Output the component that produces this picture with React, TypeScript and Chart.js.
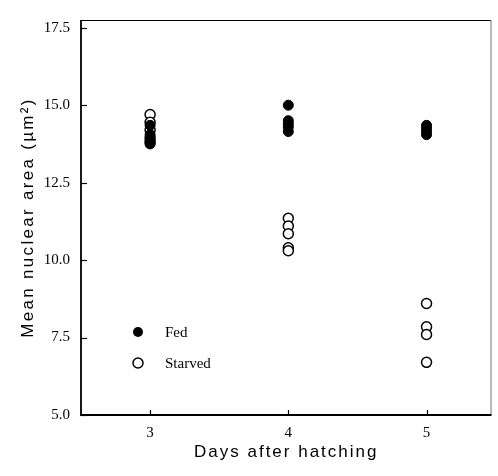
import React, { useEffect, useRef } from 'react';
import { Chart, registerables } from 'chart.js';

Chart.register(...registerables);

const days = [3, 4, 5];
const xTickValues = [3, 4, 5];
const yTickValues = [5, 7.5, 10, 12.5, 15, 17.5];

// Mean nuclear area (µm²) per day
const fedDay3 = [14.35, 14.05, 13.85, 13.75];
const fedDay4 = [15.0, 14.5, 14.4, 14.3, 14.15];
const fedDay5 = [14.35, 14.25, 14.15, 14.05];

const starvedDay3 = [14.7, 14.45, 14.2, 13.95, 13.8];
const starvedDay4 = [11.35, 11.1, 10.85, 10.4, 10.3];
const starvedDay5 = [8.6, 7.85, 7.6, 6.7];

const legendLabels = ['Fed', 'Starved'];
const xTitle = 'Days after hatching';
const yTitle = 'Mean nuclear area (\u00B5m\u00B2)';

const toPoints = (groups: number[][]) =>
  groups.flatMap((vals, i) => vals.map((v) => ({ x: days[i], y: v })));

const framePlugin = {
  id: 'frameAndTicks',
  afterDraw(chart: any) {
    const { ctx, chartArea } = chart;
    const { left, right, top, bottom } = chartArea;
    ctx.save();
    // frame: thin top, faint right edge
    ctx.strokeStyle = '#000';
    ctx.lineWidth = 1;
    ctx.beginPath();
    ctx.moveTo(left, top + 0.5);
    ctx.lineTo(right - 0.5, top + 0.5);
    ctx.stroke();
    ctx.strokeStyle = '#777';
    ctx.beginPath();
    ctx.moveTo(right - 0.5, top);
    ctx.lineTo(right - 0.5, bottom);
    ctx.stroke();
    ctx.strokeStyle = '#000';
    ctx.lineWidth = 1.8;
    ctx.beginPath();
    ctx.moveTo(left, top);
    ctx.lineTo(left, bottom);
    ctx.lineTo(right, bottom);
    ctx.stroke();
    // inward ticks
    ctx.lineWidth = 1.2;
    const ys = chart.scales.y;
    yTickValues.forEach((v) => {
      const p = Math.round(ys.getPixelForValue(v)) + 0.5;
      ctx.beginPath();
      ctx.moveTo(left, p);
      ctx.lineTo(left + 6, p);
      ctx.stroke();
    });
    const xs = chart.scales.x;
    xTickValues.forEach((v) => {
      const p = Math.round(xs.getPixelForValue(v)) + 0.5;
      ctx.beginPath();
      ctx.moveTo(p, bottom);
      ctx.lineTo(p, bottom - 5);
      ctx.stroke();
    });
    // legend
    const lx = 138;
    const rows = [332, 363];
    ctx.font = '15px "Liberation Serif"';
    ctx.textBaseline = 'middle';
    ctx.textAlign = 'left';
    rows.forEach((ry, i) => {
      ctx.beginPath();
      ctx.arc(lx, ry, 5, 0, Math.PI * 2);
      if (i === 0) {
        ctx.fillStyle = '#000';
        ctx.fill();
      } else {
        ctx.fillStyle = '#fff';
        ctx.fill();
        ctx.lineWidth = 1.5;
        ctx.stroke();
      }
      ctx.fillStyle = '#000';
      ctx.fillText(legendLabels[i], 165, ry + 1);
    });
    // axis titles
    ctx.fillStyle = '#000';
    ctx.font = '17px "Liberation Sans"';
    ctx.textAlign = 'center';
    ctx.textBaseline = 'middle';
    (ctx as any).letterSpacing = '2px';
    ctx.fillText(xTitle, (left + right) / 2, 452);
    ctx.translate(28, (top + bottom) / 2);
    ctx.rotate(-Math.PI / 2);
    (ctx as any).letterSpacing = '2.3px';
    ctx.fillText(yTitle, 0, 0);
    ctx.restore();
  },
};

export default function App() {
  const ref = useRef<HTMLCanvasElement>(null);
  useEffect(() => {
    if (!ref.current) return;
    const chart = new Chart(ref.current, {
      type: 'scatter',
      data: {
        datasets: [
          {
            label: legendLabels[0],
            data: toPoints([fedDay3, fedDay4, fedDay5]),
            pointRadius: 5,
            pointBackgroundColor: '#000',
            pointBorderColor: '#000',
            pointBorderWidth: 1,
          },
          {
            label: legendLabels[1],
            data: toPoints([starvedDay3, starvedDay4, starvedDay5]),
            pointRadius: 5,
            pointBackgroundColor: '#fff',
            pointBorderColor: '#000',
            pointBorderWidth: 1.5,
          },
        ],
      },
      options: {
        animation: false,
        responsive: false,
        maintainAspectRatio: false,
        layout: { padding: { top: 18, right: 1, left: 0, bottom: 0 } },
        plugins: { legend: { display: false }, tooltip: { enabled: false } },
        scales: {
          x: {
            type: 'linear',
            min: 2.5,
            max: 5.47,
            grid: { display: false, drawTicks: false },
            border: { display: false },
            afterBuildTicks: (s: any) => {
              s.ticks = xTickValues.map((v) => ({ value: v }));
            },
            afterFit: (s: any) => {
              s.height = 61;
            },
            ticks: {
              padding: 9,
              color: '#000',
              font: { family: '"Liberation Serif"', size: 15 },
              callback: (v: any) => String(v),
            },
            title: { display: false, text: xTitle },
          },
          y: {
            type: 'linear',
            min: 5,
            max: 17.75,
            grid: { display: false, drawTicks: false },
            border: { display: false },
            afterBuildTicks: (s: any) => {
              s.ticks = yTickValues.map((v) => ({ value: v }));
            },
            afterFit: (s: any) => {
              s.width = 81;
            },
            ticks: {
              padding: 11,
              color: '#000',
              font: { family: '"Liberation Serif"', size: 15 },
              callback: (v: any) => Number(v).toFixed(1),
            },
            title: { display: false, text: yTitle },
          },
        },
      },
      plugins: [framePlugin],
    });
    return () => chart.destroy();
  }, []);
  return (
    <div style={{ position: 'fixed', left: 0, top: 0, width: 498, height: 476, background: '#fff' }}>
      <canvas ref={ref} width={498} height={476} style={{ width: 498, height: 476 }} />
    </div>
  );
}
